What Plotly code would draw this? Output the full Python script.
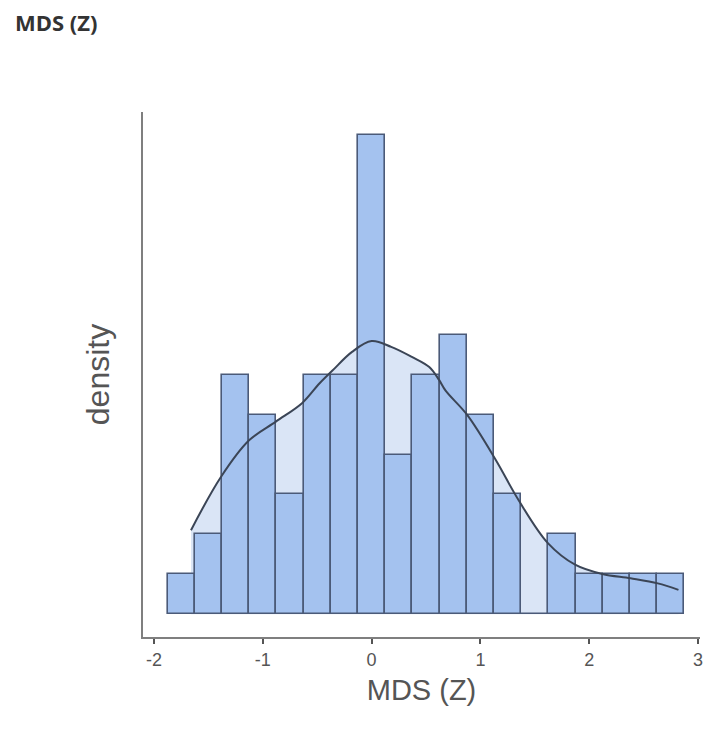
import plotly.graph_objects as go

# Histogram bins (centers, width 0.25) and counts
bin_centers = [-1.75, -1.5, -1.25, -1.0, -0.75, -0.5, -0.25, 0.0, 0.25, 0.5,
               0.75, 1.0, 1.25, 1.5, 1.75, 2.0, 2.25, 2.5, 2.75]
counts = [1, 2, 6, 5, 3, 6, 6, 12, 4, 6, 7, 5, 3, 0, 2, 1, 1, 1, 1]
bin_width = 0.25
n_total = sum(counts)
density = [c / (n_total * bin_width) for c in counts]

# Density curve points
kde_x = [-1.66, -1.385, -1.126, -0.88, -0.637, -0.48, -0.36, -0.18, 0.0, 0.18,
         0.37, 0.53, 0.62, 0.68, 0.88, 1.14, 1.35, 1.62, 1.87, 2.12, 2.38, 2.63, 2.82]
kde_y = [0.117, 0.191, 0.242, 0.268, 0.294, 0.321, 0.339, 0.365, 0.380, 0.372,
         0.358, 0.344, 0.326, 0.311, 0.277, 0.215, 0.159, 0.099, 0.069, 0.056,
         0.050, 0.043, 0.034]

x_ticks = [-2, -1, 0, 1, 2, 3]
x_range = [-2.101, 3.018]
y_range = [-0.0316, 0.6987]

fig = go.Figure()

# light fill under the density curve (base subplot, drawn beneath the bars)
fig.add_trace(go.Scatter(
    x=kde_x, y=kde_y, mode="lines", fill="tozeroy",
    line=dict(color="rgba(0,0,0,0)", width=0, shape="spline"),
    fillcolor="#dae5f6", hoverinfo="skip", showlegend=False,
    xaxis="x", yaxis="y"))

# histogram bars (overlay subplot, drawn above the fill)
fig.add_trace(go.Bar(
    x=bin_centers, y=density, width=bin_width,
    marker=dict(color="#a4c2ef", line=dict(color="#4b5a78", width=1.6)),
    showlegend=False, xaxis="x2", yaxis="y2"))

# density curve line
fig.add_trace(go.Scatter(
    x=kde_x, y=kde_y, mode="lines",
    line=dict(color="#3b4556", width=2, shape="spline"),
    showlegend=False, xaxis="x2", yaxis="y2"))

W, H = 708, 729
fig.update_layout(
    width=W, height=H,
    margin=dict(l=143, r=8, t=112, b=92),
    paper_bgcolor="white", plot_bgcolor="white",
    bargap=0,
    title=dict(text="<b>MDS (Z)</b>", xref="container", yref="container",
               x=15 / W, xanchor="left", y=1 - 23 / H, yanchor="middle",
               font=dict(family="Open Sans", size=22, color="#333333")),
    xaxis=dict(
        range=x_range, tickvals=x_ticks, ticktext=[str(t) for t in x_ticks],
        showgrid=False, zeroline=False, automargin=False,
        ticklabeloverflow="allow",
        showline=True, linecolor="#7f7f7f", linewidth=2,
        ticks="outside", ticklen=5, tickwidth=2, tickcolor="#555555",
        tickfont=dict(family="Liberation Sans", size=18, color="#555555"),
        title=dict(text="MDS (Z)", standoff=11,
                   font=dict(family="Liberation Sans", size=29, color="#555555"))),
    yaxis=dict(
        range=y_range, showticklabels=False, ticks="",
        showgrid=False, zeroline=False, automargin=False,
        showline=True, linecolor="#7f7f7f", linewidth=2,
        title=dict(text="density", standoff=22,
                   font=dict(family="Liberation Sans", size=32, color="#555555"))),
    xaxis2=dict(range=x_range, overlaying="x", anchor="y2", visible=False),
    yaxis2=dict(range=y_range, overlaying="y", anchor="x2", visible=False),
)

# remove the default 8px page margin so the 708x729 figure fills the window exactly
fig.write_html("out.html", config={"displayModeBar": False},
               post_script="document.body.style.margin='0px';")
